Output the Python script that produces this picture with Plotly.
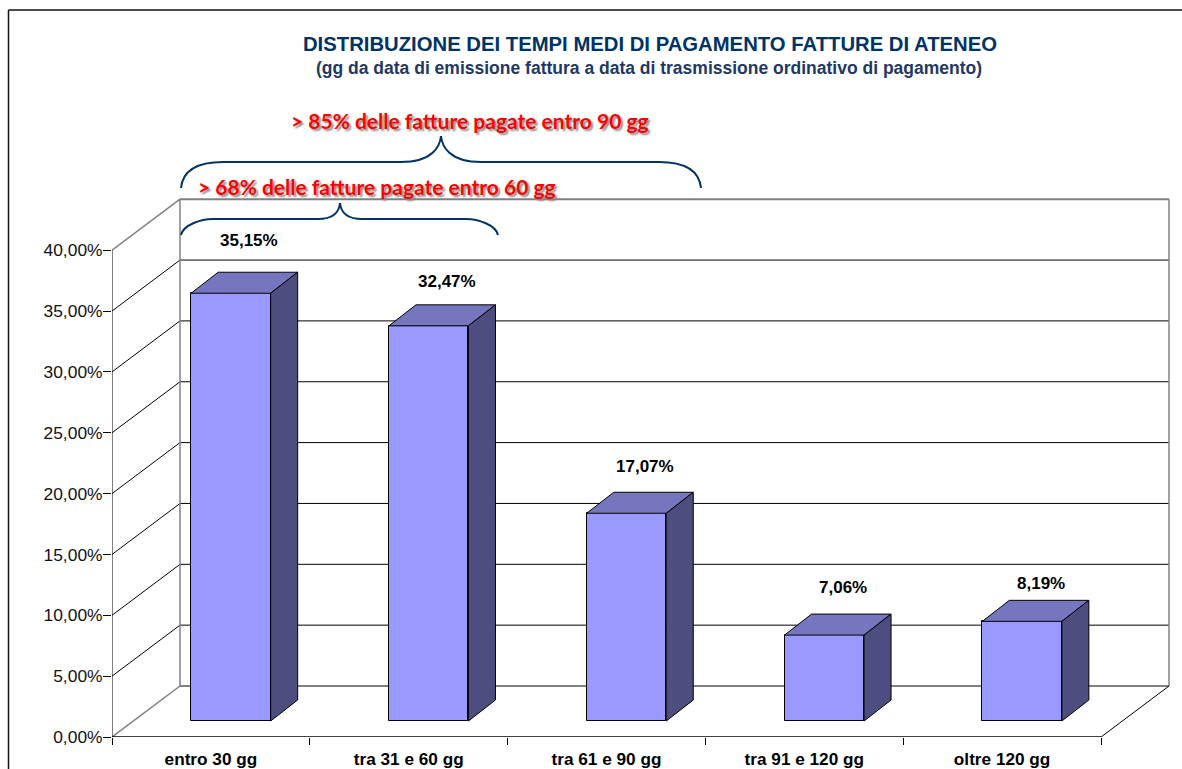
import plotly.graph_objects as go

categories = ["entro 30 gg", "tra 31 e 60 gg", "tra 61 e 90 gg", "tra 91 e 120 gg", "oltre 120 gg"]
values = [35.15, 32.47, 17.07, 7.06, 8.19]
value_labels = ["35,15%", "32,47%", "17,07%", "7,06%", "8,19%"]
y_ticks = [0, 5, 10, 15, 20, 25, 30, 35, 40]
y_tick_labels = ["0,00%", "5,00%", "10,00%", "15,00%", "20,00%", "25,00%", "30,00%", "35,00%", "40,00%"]
title_text = "DISTRIBUZIONE DEI TEMPI MEDI DI PAGAMENTO FATTURE DI ATENEO"
subtitle_text = "(gg da data di emissione fattura a data di trasmissione ordinativo di pagamento)"
note_90 = "> 85% delle fatture pagate entro 90 gg"
note_60 = "> 68% delle fatture pagate entro 60 gg"

W, H = 1182, 769
X0, Y0 = 112, 737            # pixel position of the axes origin
PX_X, PX_Y = 197.8, 12.17    # pixels per category / per percent unit


def dx(px):
    return px / PX_X


def dy(px):
    return px / PX_Y


def X(px):
    return (px - X0) / PX_X


def Y(py):
    return (Y0 - py) / PX_Y


WALL_X, WALL_Y = dx(68), dy(51)
BAR_X, BAR_Y = dx(20), dy(16)
DEPTH_X, DEPTH_Y = dx(27), dy(21)
BAR_W = dx(79.5)
centers = [i + 0.5 for i in range(5)]
label_shift = [53, 44, 47, 48, 38]

FRONT, TOP, SIDE = "#9999FF", "#7676BE", "#4D4D80"
GREY, NAVY = "#808080", "#003366"

shapes = []


def line(x0, y0, x1, y1, color="black", width=1):
    shapes.append(dict(type="line", layer="below", xref="x", yref="y", x0=x0, y0=y0, x1=x1, y1=y1,
                       line=dict(color=color, width=width)))


# Walls and gridlines
for v in y_ticks:
    edge = v in (0, 40)
    c, w = (GREY, 2) if edge else ("black", 1)
    line(WALL_X, v + WALL_Y, 5 + WALL_X, v + WALL_Y, c, w)
    line(0, v, WALL_X, v + WALL_Y, GREY if edge else "black", 1.5 if edge else 1)
line(WALL_X, WALL_Y, WALL_X, 40 + WALL_Y, GREY, 1.5)
line(5 + WALL_X, WALL_Y, 5 + WALL_X, 40 + WALL_Y, GREY, 1.5)
line(5, 0, 5 + WALL_X, WALL_Y, "black", 1)
line(0, 0, 0, 40, "black", 1)
line(0, 0, 5, 0, "black", 1.5)


def brace(pts):
    (sx, sy), (fy), (tx, ty), (ex, ey), (k1, k2) = pts
    p = (f"M {X(sx)},{Y(sy)} C {X(sx+2)},{Y(fy+6)} {X(sx+20)},{Y(fy)} {X(sx+k1)},{Y(fy)} "
         f"L {X(tx-k2)},{Y(fy)} C {X(tx-8)},{Y(fy)} {X(tx-1)},{Y(ty+10)} {X(tx)},{Y(ty)} "
         f"C {X(tx+1)},{Y(ty+10)} {X(tx+8)},{Y(fy)} {X(tx+k2)},{Y(fy)} "
         f"L {X(ex-k1)},{Y(fy)} C {X(ex-20)},{Y(fy)} {X(ex-2)},{Y(fy+6)} {X(ex)},{Y(ey)}")
    shapes.append(dict(type="path", layer="above", xref="x", yref="y", path=p,
                       line=dict(color=NAVY, width=2)))


brace(((181, 188), 162, (441, 136), (701, 188), (42, 40)))
brace(((181, 235), 219, (340, 203), (498, 235), (32, 22)))

# Figure frame
shapes.append(dict(type="line", xref="paper", yref="paper", x0=(8.5 - X0) / (W - X0), x1=1,
                   y0=(Y0 - 10) / Y0, y1=(Y0 - 10) / Y0, line=dict(color="#111111", width=1.5)))
shapes.append(dict(type="line", xref="paper", yref="paper", x0=(8.5 - X0) / (W - X0), x1=(8.5 - X0) / (W - X0),
                   y0=(Y0 - 10) / Y0, y1=(Y0 - H) / Y0, line=dict(color="#111111", width=1.5)))

fig = go.Figure()

fig.add_trace(go.Bar(
    x=[c + BAR_X for c in centers], y=values, base=BAR_Y, width=BAR_W,
    marker=dict(color=FRONT, line=dict(color="black", width=1)), showlegend=False, hoverinfo="skip"))

for c, v in zip(centers, values):
    l, r = c + BAR_X - BAR_W / 2, c + BAR_X + BAR_W / 2
    b, t = BAR_Y, BAR_Y + v
    fig.add_trace(go.Scatter(
        x=[l, r, r + DEPTH_X, l + DEPTH_X, l], y=[t, t, t + DEPTH_Y, t + DEPTH_Y, t],
        mode="lines", fill="toself", fillcolor=TOP, line=dict(color="black", width=1),
        showlegend=False, hoverinfo="skip"))
    fig.add_trace(go.Scatter(
        x=[r, r + DEPTH_X, r + DEPTH_X, r, r], y=[b, b + DEPTH_Y, t + DEPTH_Y, t, b],
        mode="lines", fill="toself", fillcolor=SIDE, line=dict(color="black", width=1),
        showlegend=False, hoverinfo="skip"))

annotations = []
for c, v, lab, s in zip(centers, values, value_labels, label_shift):
    annotations.append(dict(x=c + BAR_X + dx(18.5), y=BAR_Y + v, text=lab, showarrow=False, yshift=s,
                            xanchor="center", yanchor="middle",
                            font=dict(family="Liberation Sans", size=17, color="black", weight="bold")))

shadow = "2px 2px 2px #888888"
for text, px, py in [(note_90, 470, 120), (note_60, 377, 186)]:
    annotations.append(dict(x=X(px), y=Y(py), text=text, showarrow=False, xanchor="center", yanchor="middle",
                            font=dict(family="Lato", size=21, color="#FF0000", weight="bold", shadow=shadow)))

annotations.append(dict(x=X(649), y=Y(67.5), text=subtitle_text, showarrow=False, xanchor="center", yanchor="middle",
                        font=dict(family="Liberation Sans", size=17.5, color="#1F3864", weight="bold")))

fig.update_layout(
    width=W, height=H, paper_bgcolor="white", plot_bgcolor="white",
    margin=dict(l=X0, r=0, t=0, b=H - Y0, autoexpand=False),
    showlegend=False, bargap=0, shapes=shapes, annotations=annotations,
    title=dict(text=title_text, x=650 / W, xanchor="center", y=1 - 44 / H, yanchor="middle",
               automargin=False,
               font=dict(family="Liberation Sans", size=20.3, color=NAVY, weight="bold")),
    xaxis=dict(range=[0, (W - X0) / PX_X], showgrid=False, zeroline=False, showline=False, automargin=False,
               tickmode="array", tickvals=centers, ticktext=categories, ticks="", ticklabelstandoff=10,
               tickfont=dict(family="Liberation Sans", size=17.2, color="black", weight="bold"),
               minor=dict(tickmode="array", tickvals=[0, 1, 2, 3, 4, 5], ticks="outside", ticklen=7,
                          tickcolor="black", tickwidth=1)),
    yaxis=dict(range=[0, Y0 / PX_Y], showgrid=False, zeroline=False, showline=False, automargin=False,
               tickmode="array", tickvals=y_ticks, ticktext=y_tick_labels, ticks="outside", ticklen=8,
               ticklabelstandoff=-3, tickcolor="black", tickwidth=1,
               tickfont=dict(family="Liberation Sans", size=17.4, color="#111111")),
)

fig.write_html("out.html", config=dict(displayModeBar=False),
               post_script="document.body.style.margin='0';")
